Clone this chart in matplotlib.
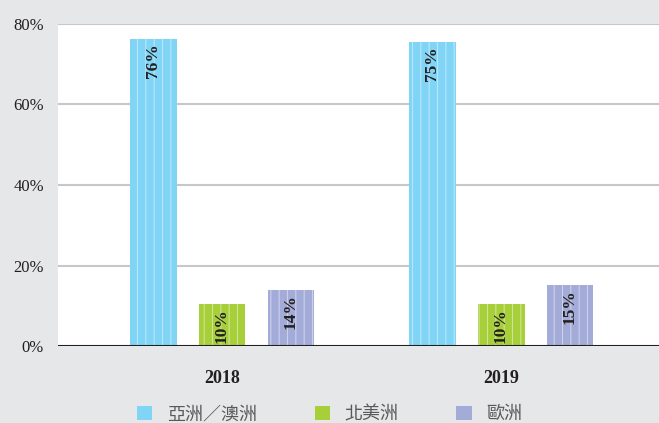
import numpy as np
import matplotlib.pyplot as plt
from matplotlib.patches import Patch

# data
years = ["2018", "2019"]
regions = ["亞洲／澳洲", "北美洲", "歐洲"]
asia = [76.3, 75.5]
namerica = [10.4, 10.4]
europe = [13.9, 15.2]
asia_lbl = ["76%", "75%"]
namerica_lbl = ["10%", "10%"]
europe_lbl = ["14%", "15%"]

colors = ["#80d4f6", "#a7cf3a", "#a3abd8"]
bg = "#e6e7e9"

plt.rcParams["hatch.color"] = (1, 1, 1, 0.45)
plt.rcParams["hatch.linewidth"] = 0.8

fig = plt.figure(figsize=(6.59, 4.23), dpi=100, facecolor=bg)
ax = fig.add_axes([58 / 659, 1 - 346 / 423, 1 - 58 / 659, (346 - 24) / 423])
ax.set_facecolor("white")

x = np.arange(len(years))
spacing = 0.247
width = 0.168
series = [asia, namerica, europe]
labels = [asia_lbl, namerica_lbl, europe_lbl]

for k, (vals, lbls) in enumerate(zip(series, labels)):
    pos = x + (k - 1) * spacing
    ax.bar(pos, vals, width, color=colors[k], hatch="||", linewidth=0, zorder=3)
    for p, v, t in zip(pos, vals, lbls):
        ax.text(p, v - 1.0, t, rotation=90, ha="center", va="top",
                fontsize=12.5, fontweight="bold", family="Liberation Serif",
                color="#231f20", zorder=4)

ax.set_ylim(0, 80)
ax.set_xlim(-0.588, 1.566)
ax.set_yticks([0, 20, 40, 60, 80])
ax.set_yticklabels(["0%", "20%", "40%", "60%", "80%"],
                   family="Liberation Serif", fontsize=12, color="#231f20")
ax.set_xticks(x)
ax.set_xticklabels(years, family="Liberation Serif", fontsize=13,
                   fontweight="bold", color="#231f20")
ax.tick_params(axis="y", length=0, pad=10)
ax.tick_params(axis="x", length=0, pad=17)

for y in [20, 40, 60, 80]:
    ax.axhline(y, color="#c6c7c9", lw=1.5, zorder=1)
ax.axhline(0, color="#231f20", lw=1.5, zorder=5)
for s in ax.spines.values():
    s.set_visible(False)

handles = [Patch(facecolor=c, edgecolor="none") for c in colors]
leg = fig.legend(handles, regions, loc="center", bbox_to_anchor=(0.5, 1 - 414 / 423),
                 ncol=3, frameon=False, handlelength=0.85, handleheight=0.85,
                 handletextpad=0.8, columnspacing=3.2,
                 prop={"family": ["Noto Sans CJK TC", "DejaVu Sans"], "size": 13})
for t in leg.get_texts():
    t.set_color("#58595b")

fig.savefig("out.png", dpi=100, facecolor=bg)
